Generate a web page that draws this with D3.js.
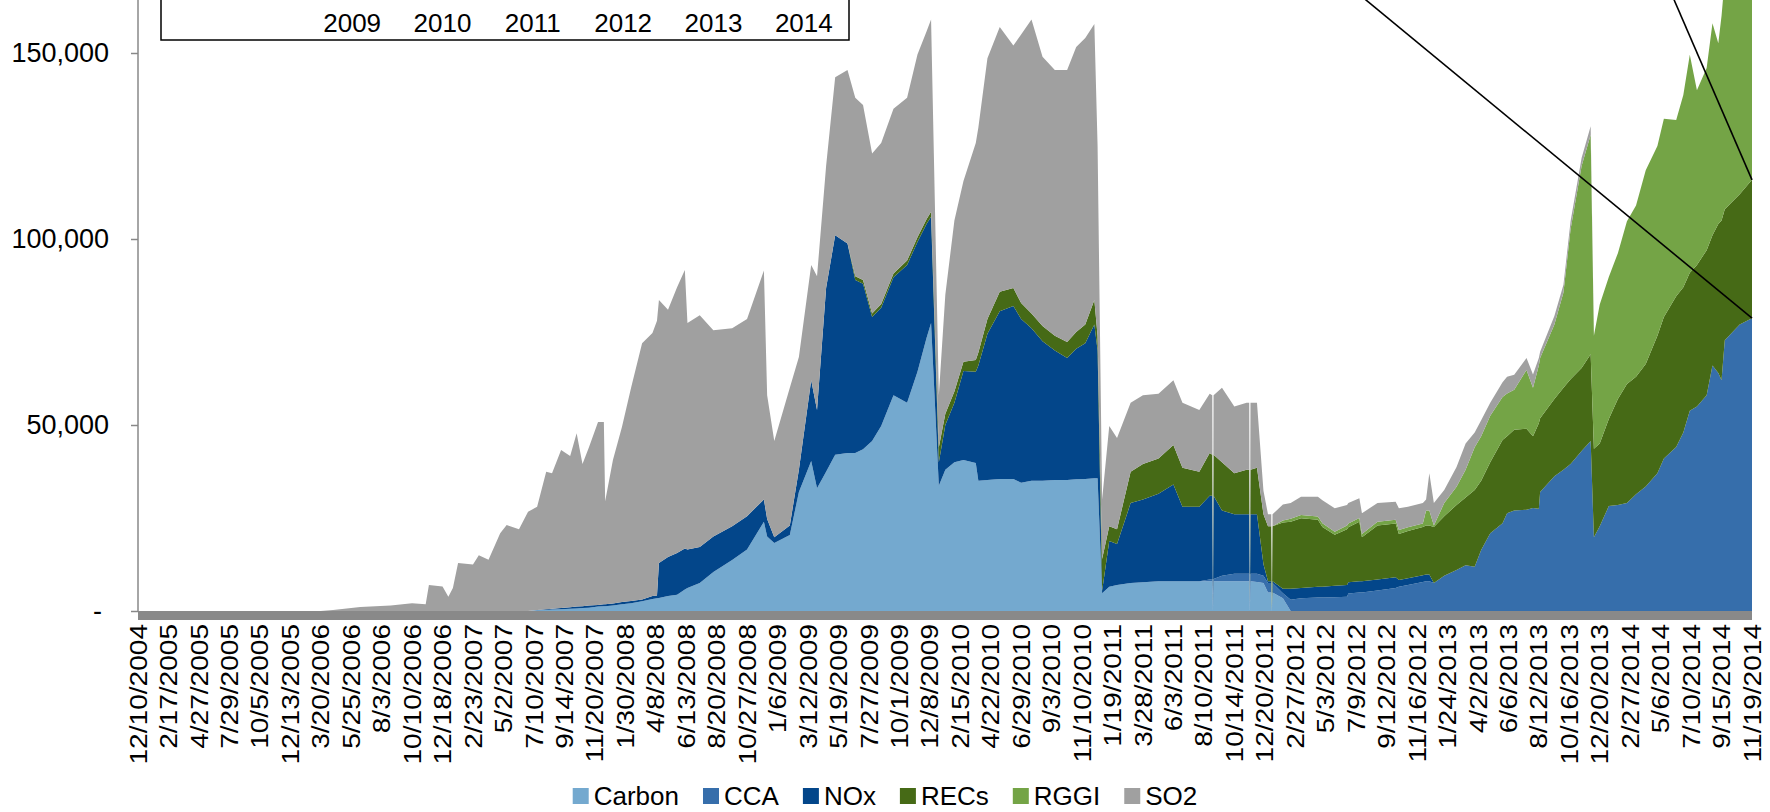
<!DOCTYPE html>
<html>
<head>
<meta charset="utf-8">
<script src="https://cdn.jsdelivr.net/npm/d3@7/dist/d3.min.js"></script>
<style>
    body { margin: 0; background: #fff; }
    svg { display: block; font-family: "Liberation Sans", Arial, sans-serif; }
</style>
</head>
<body>
<div id="chart"></div>
<script>
// trading day number (47 trading days between two axis labels)
var tradingDay = [0,282,301,343,390,423,444,449,470,479,486,494,517,526,541,559,569,588,602,616,
    630,639,653,667,677,686,696,710,719,721,733,747,761,778,794,801,804,818,832,844,
    848,867,888,917,940,966,971,982,1006,1020,1039,1048,1062,1076,1095,1107,1119,1133,1147,1166,
    1187,1203,1217,1224,1236,1246,1260,1274,1293,1297,1311,1330,1351,1363,1379,1396,1415,1434,1448,1462,
    1476,1481,1488,1499,1511,1532,1551,1575,1598,1612,1638,1654,1658,1659,1660,1673,1692,1711,1715,1716,
    1717,1727,1737,1744,1749,1750,1751,1767,1779,1795,1821,1828,1847,1866,1868,1885,1889,1913,1941,1946,
    1960,1983,1988,1993,2000,2016,2035,2049,2063,2073,2087,2106,2113,2124,2143,2153,2162,2164,2186,2200,
    2211,2228,2242,2247,2256,2270,2284,2298,2312,2327,2345,2355,2374,2385,2395,2406,2421,2430,2439,2444,
    2449,2472,2491];

// values in thousands
var carbon = [0,0,0,0,0,0,0,0,0,0,0,0,0,0,0,0,0,0,0,0.2,
    0.3,0.4,0.5,0.6,0.7,0.8,0.9,1.2,1.3,1.3,1.5,1.8,2.1,2.6,3.2,3.4,3.5,4.0,4.4,5.8,
    6.2,7.5,10.5,13.7,16.5,24,20,18.3,20.4,32,40.3,33,37.4,42,42.5,42.5,43.5,45.7,49.7,58,
    56,64.3,73.4,77.4,33.7,38,40,40.6,39.8,35,35.2,35.5,35.5,34.5,35,35,35.2,35.2,35.4,35.5,
    35.7,35.7,4.8,6.5,7,7.5,7.7,8,8,8,8,8,8,0,8,8,8,8,8,0,
    8,7.8,7.5,5,5,0,5,3.4,0,0,0,0,0,0,0,0,0,0,0,0,
    0,0,0,0,0,0,0,0,0,0,0,0,0,0,0,0,0,0,0,0,
    0,0,0,0,0,0,0,0,0,0,0,0,0,0,0,0,0,0,0,0,
    0,0,0];
var cca = [0,0,0,0,0,0,0,0,0,0,0,0,0,0,0,0,0,0,0,0,
    0,0,0,0,0,0,0,0,0,0,0,0,0,0,0,0,0,0,0,0,
    0,0,0,0,0,0,0,0,0,0,0,0,0,0,0,0,0,0,0,0,
    0,0,0,0,0,0,0,0,0,0,0,0,0,0,0,0,0,0,0,0,
    0,0,0,0,0,0,0,0,0,0,0,0.5,0.6,0,0.6,1.5,2,2,2,0,
    2,2.2,2,2.5,2.5,0,2.5,1.4,3,3.4,3.6,3.6,3.7,3.8,4.7,5,5,5.5,6.2,6.5,
    7,7.8,8,8,7.5,9.5,11,12.3,11.9,16.4,20.9,23.6,26.3,27,27.2,27.7,27.5,32,36.2,38,
    39.5,43,45.7,19.8,22.8,28.2,28.5,29,31.4,33.5,37,41,44.1,48,53.8,55,58,66,64,62,
    72.8,77,78.7];
var nox = [0,0,0,0,0,0,0,0,0,0,0,0,0,0,0,0,0,0,0,0.1,
    0.2,0.2,0.3,0.4,0.5,0.5,0.6,0.4,0.5,0.5,0.5,0.6,0.6,0.5,0.8,0.8,9.4,10.5,11.2,11.0,
    10.3,9.7,9.5,9.1,9.0,6,4.7,1.5,2.6,6,21.7,21,49.4,59,56.3,46.5,44.5,33.3,31.8,31.7,
    37,34.9,30.6,28.6,6.3,12,16,23.9,24.5,31,39.3,45.1,46.5,44,41,37.5,34.8,32.8,35.1,36.5,
    41.3,34.3,0.6,12.3,11,21.5,22.3,23.5,26,20,20,22.5,22.4,0,22.4,17.5,16,16,16,0,
    16,16,3.1,0.5,0.5,0,0.5,1.2,3,2.8,2.9,2.9,3.1,3.2,3,3,3,3,2.9,1.8,
    1.8,1.8,1.8,1.8,0,0,0,0,0,0,0,0,0,0,0,0,0,0,0,0,
    0,0,0,0,0,0,0,0,0,0,0,0,0,0,0,0,0,0,0,0,
    0,0,0];
var recs = [0,0,0,0,0,0,0,0,0,0,0,0,0,0,0,0,0,0,0,0,
    0,0,0,0,0,0,0,0,0,0,0,0,0,0,0,0,0,0,0,0,
    0,0,0,0,0,0,0,0,0,0,0,0,0,0,0,1,1,1,1,1,
    1.2,1.3,1.3,1.3,4,3,3,2.5,3.2,3.5,4,5.2,4.8,4.3,4,4.1,4,4.3,4.5,5,
    6.6,4,8.6,4,4,8.4,9.5,9.5,10.6,10.5,9.4,11.5,11,0,11,13,11,12,12,0,
    12,12.5,13.4,14.8,14.8,0,14.8,17.8,18,18.7,18,16.1,13.7,15,14.8,16,11.8,14.5,14.4,12.4,
    12.7,13,13.2,13.2,15.1,16,17.5,18.2,20.6,18.6,19.1,22.4,20.7,21.7,21.8,19.3,23,19.8,20.8,22,
    22.8,22.3,23.3,23.8,22.2,23.4,28.5,32,31.6,32.9,37,38,40.5,39,37.1,38,39,35,40,43,
    35.2,35,37.2];
var rggi = [0,0,0,0,0,0,0,0,0,0,0,0,0,0,0,0,0,0,0,0,
    0,0,0,0,0,0,0,0,0,0,0,0,0,0,0,0,0,0,0,0,
    0,0,0,0,0,0,0,0,0,0,0,0,0,0,0,0,0,0,0,0,
    0,0,0,0,0,0,0,0,0,0,0,0,0,0,0,0,0,0,0,0,
    0,0,0,0,0,0,0,0,0,0,0,0,0,0,0,0,0,0,0,0,
    0,0,0,0,0,0,0,0.5,0.8,0.9,0.9,1,0.8,1,1,1,0.9,1,1,1.1,
    1,0.9,4,4,0.4,3.5,4.9,7.5,11.5,12,12.5,11.5,11.5,10.8,15.8,13,15.5,16.2,20,25.6,
    40.3,54.3,59,30.4,37.4,38.2,39.2,43.8,46,52.1,51,53.3,47.4,51.7,58.6,47,49,57,48.6,55,
    62,66,66.1];
var so2 = [0,0,0.3,1.1,1.5,2.1,1.8,7.0,6.6,3.8,6.2,12.9,12.5,15,13.8,20.9,23.1,22,26.7,27.7,
    36.9,36.4,42.5,40.7,46.6,38.2,42.5,49.2,49,27.7,38.6,47.1,57.3,68.9,70.7,73.8,70.7,66.5,71.4,74.9,
    60.9,62.3,55.5,53.2,53,61.5,33.3,25.9,37,30.3,31,36,32.8,42.5,46.6,48,47,43,43.3,44.3,
    43.8,49.1,50.5,51.7,14,32,46,48.6,58.3,60.5,70.1,71.2,65.2,72.2,79,72.4,71.4,73.1,76.6,77,
    74.2,51,16,26.9,24.5,18.6,18.5,17.4,17.4,17.5,16.6,15.9,16,0,16,20,18,18,18,0,
    18,17.5,6.3,3.2,3.2,0,3.2,4.3,4.2,4.9,5.3,6.2,6.3,5.5,5.5,5.3,5.6,5,4.9,5.8,
    5.5,5.5,3,10,6,3.5,5.3,7,4,4.3,3.5,4,4.5,4,3.2,3.6,2,1.7,2.3,2.1,
    2.2,2.2,2.3,0,0,0,0,0,0,0,0,0,0,0,0,0,0,0,0,0,
    0,0,0];

var seriesNames = ["Carbon", "CCA", "NOx", "RECs", "RGGI", "SO2"];
var seriesColors = ["#74a9cf", "#366eab", "#03468a", "#466a16", "#74a446", "#a0a0a0"];

var tickLabels = ["12/10/2004","2/17/2005","4/27/2005","7/29/2005","10/5/2005","12/13/2005","3/20/2006",
    "5/25/2006","8/3/2006","10/10/2006","12/18/2006","2/23/2007","5/2/2007","7/10/2007","9/14/2007",
    "11/20/2007","1/30/2008","4/8/2008","6/13/2008","8/20/2008","10/27/2008","1/6/2009","3/12/2009",
    "5/19/2009","7/27/2009","10/1/2009","12/8/2009","2/15/2010","4/22/2010","6/29/2010","9/3/2010",
    "11/10/2010","1/19/2011","3/28/2011","6/3/2011","8/10/2011","10/14/2011","12/20/2011","2/27/2012",
    "5/3/2012","7/9/2012","9/12/2012","11/16/2012","1/24/2013","4/2/2013","6/6/2013","8/12/2013",
    "10/16/2013","12/20/2013","2/27/2014","5/6/2014","7/10/2014","9/15/2014","11/19/2014"];
var labelStep = 47;
var yTicks = [0, 50000, 100000, 150000];
var insetYears = ["2009", "2010", "2011", "2012", "2013", "2014"];
// callout lines: from the top of a series at the last day up to the inset (off the top)
var callouts = [{series: "CCA", day: 1890, value: 165000}, {series: "RECs", day: 2369, value: 165000}];

var W = 1770, H = 812;
var plotLeft = 138, plotRight = 1752, baseY = 611, y150 = 53;

var table = tradingDay.map(function(d, i) {
    return {day: d, Carbon: carbon[i] * 1000, CCA: cca[i] * 1000, NOx: nox[i] * 1000,
        RECs: recs[i] * 1000, RGGI: rggi[i] * 1000, SO2: so2[i] * 1000};
});

var x = d3.scaleLinear().domain([0, labelStep * (tickLabels.length - 1)]).range([plotLeft, plotRight]);
var y = d3.scaleLinear().domain([0, 150000]).range([baseY, y150]);
var color = d3.scaleOrdinal().domain(seriesNames).range(seriesColors);

var svg = d3.select("#chart").append("svg")
    .attr("width", W)
    .attr("height", H);

var stacked = d3.stack().keys(seriesNames)(table);
var area = d3.area()
    .x(function(d) { return x(d.data.day); })
    .y0(function(d) { return y(d[0]); })
    .y1(function(d) { return y(d[1]); });

svg.append("g").selectAll("path")
    .data(stacked)
    .enter()
    .append("path")
    .attr("fill", function(d) { return color(d.key); })
    .attr("d", area);

// x axis: thick grey band under the baseline
svg.append("rect")
    .attr("x", x(0))
    .attr("y", baseY)
    .attr("width", x.range()[1] - x.range()[0])
    .attr("height", 9)
    .attr("fill", "#898989");

svg.append("g").selectAll("text")
    .data(tickLabels)
    .enter()
    .append("text")
    .attr("transform", function(d, i) { return "translate(" + x(i * labelStep) + "," + (baseY + 13) + ") rotate(-90) scale(1.17,1)"; })
    .attr("dy", "0.36em")
    .attr("text-anchor", "end")
    .style("font-size", "24px")
    .attr("fill", "#000")
    .text(function(d) { return d; });

// y axis
var yAxis = d3.axisLeft(y)
    .tickValues(yTicks)
    .tickSize(7)
    .tickPadding(22)
    .tickFormat(function(d) { return d === 0 ? "-" : d3.format(",")(d); });
var yg = svg.append("g")
    .attr("transform", "translate(" + plotLeft + ",0)")
    .call(yAxis);
yg.select(".domain").remove();
yg.append("line")
    .attr("x1", 0).attr("x2", 0)
    .attr("y1", 0).attr("y2", baseY)
    .attr("stroke", "#888").attr("stroke-width", 1.5);
yg.selectAll(".tick line").attr("stroke", "#888").attr("stroke-width", 1.5);
yg.selectAll(".tick text")
    .style("font-size", "27px")
    .style("font-family", "'Liberation Sans', Arial, sans-serif")
    .attr("fill", "#000")
    .attr("dx", function(d) { return d === 0 ? "-7" : "0"; });

// inset box (cut by the top edge)
var inset = svg.append("g");
inset.append("rect")
    .attr("x", 161).attr("y", -60)
    .attr("width", 688).attr("height", 100)
    .attr("fill", "#fff").attr("stroke", "#000").attr("stroke-width", 1.5);
var yearX = d3.scaleBand().domain(insetYears).range([307, 849]);
inset.selectAll("text")
    .data(insetYears)
    .enter()
    .append("text")
    .attr("x", function(d) { return yearX(d) + yearX.bandwidth() / 2; })
    .attr("y", 32)
    .attr("text-anchor", "middle")
    .style("font-size", "26px")
    .text(function(d) { return d; });

// callout lines
var last = stacked[0].length - 1;
svg.append("g").selectAll("line")
    .data(callouts)
    .enter()
    .append("line")
    .attr("x1", function(d) { return x(table[last].day); })
    .attr("y1", function(d) { return y(stacked[seriesNames.indexOf(d.series)][last][1]); })
    .attr("x2", function(d) { return x(d.day); })
    .attr("y2", function(d) { return y(d.value); })
    .attr("stroke", "#000")
    .attr("stroke-width", 1.6);

// legend
var legend = svg.append("g");
var items = legend.selectAll("g")
    .data(seriesNames)
    .enter()
    .append("g");
items.append("rect")
    .attr("width", 16).attr("height", 16)
    .attr("y", -8)
    .attr("fill", function(d) { return color(d); });
items.append("text")
    .attr("x", 21)
    .attr("dy", "0.36em")
    .style("font-size", "26px")
    .text(function(d) { return d; });
var offset = 0;
items.each(function() {
    var w = 21 + d3.select(this).select("text").node().getComputedTextLength();
    d3.select(this).attr("data-x", offset);
    offset += w + 24;
});
var total = offset - 24;
items.attr("transform", function() {
    return "translate(" + (W / 2 - total / 2 + (+d3.select(this).attr("data-x"))) + ",796)";
});
</script>
</body>
</html>
